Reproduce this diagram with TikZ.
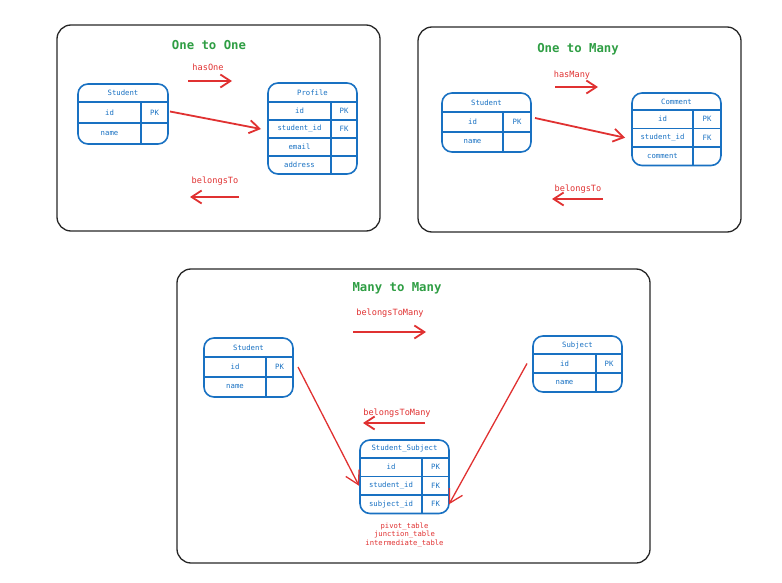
\documentclass[tikz,border=0pt]{standalone}
\usepackage{fontspec}
\setmonofont{DejaVu Sans Mono}
\usetikzlibrary{positioning,arrows.meta}
\definecolor{ExBlue}{HTML}{1971C2}
\definecolor{ExRed}{HTML}{E03131}
\definecolor{ExGreen}{HTML}{2F9E44}

\begin{document}
\begin{tikzpicture}[x=1pt,y=-1pt,
  panel/.style={draw=black!85, line width=1.3pt, rounded corners=14pt},
  title/.style={text=ExGreen, font=\ttfamily\bfseries\fontsize{12.3}{14}\selectfont},
  rlabel/.style={text=ExRed, font=\ttfamily\fontsize{8.6}{10}\selectfont},
  cell/.style={inner sep=0pt, outer sep=0pt, text=ExBlue, font=\ttfamily\fontsize{7.3}{9}\selectfont},
  tbl/.style={draw=ExBlue, line width=1.6pt, rounded corners=10pt},
  sep/.style={draw=ExBlue, line width=1.6pt},
  rel/.style={draw=ExRed, line width=1.8pt, -{Straight Barb[length=10pt,width=13pt]}},
  relthin/.style={draw=ExRed, line width=1.3pt, -{Straight Barb[length=13pt,width=15pt]}},
]
\useasboundingbox (0,0) rectangle (782,583);

% ---------------- One to One
\draw[panel] (57,25) rectangle (380,231);
\node[title] (TitA) at (209,45) {One to One};
\node[rlabel] (HasOne) at (208,67) {hasOne};
\node[rlabel] (BelA) at (215,181) {belongsTo};
\coordinate (HasOneS) at (188,81);
\coordinate (HasOneE) at (232,81);
\coordinate (BelAS) at (239,197);
\coordinate (BelAE) at (190,197);

% student table
\begin{scope}[cell/.append style={minimum height=21pt}]
  \node[cell, minimum width=90pt, minimum height=18pt, anchor=north west] (StuA) at (78,84) {Student};
  \node[cell, minimum width=63pt, below=0pt of StuA.south west, anchor=north west] (StuAid) {id};
  \node[cell, minimum width=27pt, right=0pt of StuAid] (StuApk) {PK};
  \node[cell, minimum width=63pt, below=0pt of StuAid] (StuAnm) {name};
  \node[cell, minimum width=27pt, right=0pt of StuAnm] (StuAnx) {};
\end{scope}
\draw[tbl] (StuA.north west) rectangle (StuAnx.south east);
\draw[sep] (StuAid.north west) -- (StuApk.north east);
\draw[sep] (StuAnm.north west) -- (StuAnx.north east);
\draw[sep] (StuApk.north west) -- (StuAnx.south west);

% profile table
\begin{scope}[cell/.append style={minimum height=18pt}]
  \node[cell, minimum width=89pt, minimum height=19pt, anchor=north west] (ProA) at (268,83) {Profile};
  \node[cell, minimum width=63pt, below=0pt of ProA.south west, anchor=north west] (ProAid) {id};
  \node[cell, minimum width=26pt, right=0pt of ProAid] (ProApk) {PK};
  \node[cell, minimum width=63pt, below=0pt of ProAid] (ProAsid) {student\_id};
  \node[cell, minimum width=26pt, right=0pt of ProAsid] (ProAfk) {FK};
  \node[cell, minimum width=63pt, below=0pt of ProAsid] (ProAem) {email};
  \node[cell, minimum width=26pt, right=0pt of ProAem] (ProAex) {};
  \node[cell, minimum width=63pt, below=0pt of ProAem] (ProAad) {address};
  \node[cell, minimum width=26pt, right=0pt of ProAad] (ProAax) {};
\end{scope}
\draw[tbl] (ProA.north west) rectangle (ProAax.south east);
\draw[sep] (ProAid.north west) -- (ProApk.north east);
\draw[sep] (ProAsid.north west) -- (ProAfk.north east);
\draw[sep] (ProAem.north west) -- (ProAex.north east);
\draw[sep] (ProAad.north west) -- (ProAax.north east);
\draw[sep] (ProApk.north west) -- (ProAax.south west);

% edges
\draw[rel] (HasOneS) -- (HasOneE);
\draw[rel] (BelAS) -- (BelAE);
\draw[rel] ([xshift=2pt,yshift=1pt]StuApk.east) -- ([xshift=-7pt]ProAsid.west);

% ---------------- One to Many
\draw[panel] (418,27) rectangle (741,232);
\node[title] (TitB) at (578,49) {One to Many};
\node[rlabel] (HasMany) at (572,75) {hasMany};
\node[rlabel] (BelB) at (578,189) {belongsTo};
\coordinate (HasManyS) at (555,87);
\coordinate (HasManyE) at (598,87);
\coordinate (BelBS) at (603,199);
\coordinate (BelBE) at (552,199);

% student table
\begin{scope}[cell/.append style={minimum height=20pt}]
  \node[cell, minimum width=89pt, minimum height=19pt, anchor=north west] (StuB) at (442,93) {Student};
  \node[cell, minimum width=61pt, below=0pt of StuB.south west, anchor=north west] (StuBid) {id};
  \node[cell, minimum width=28pt, right=0pt of StuBid] (StuBpk) {PK};
  \node[cell, minimum width=61pt, below=0pt of StuBid] (StuBnm) {name};
  \node[cell, minimum width=28pt, right=0pt of StuBnm] (StuBnx) {};
\end{scope}
\draw[tbl] (StuB.north west) rectangle (StuBnx.south east);
\draw[sep] (StuBid.north west) -- (StuBpk.north east);
\draw[sep] (StuBnm.north west) -- (StuBnx.north east);
\draw[sep] (StuBpk.north west) -- (StuBnx.south west);

% comment table
\begin{scope}[cell/.append style={minimum height=18.5pt}]
  \node[cell, minimum width=89pt, minimum height=17pt, anchor=north west] (ComB) at (632,93) {Comment};
  \node[cell, minimum width=61pt, below=0pt of ComB.south west, anchor=north west] (ComBid) {id};
  \node[cell, minimum width=28pt, right=0pt of ComBid] (ComBpk) {PK};
  \node[cell, minimum width=61pt, below=0pt of ComBid] (ComBsid) {student\_id};
  \node[cell, minimum width=28pt, right=0pt of ComBsid] (ComBfk) {FK};
  \node[cell, minimum width=61pt, below=0pt of ComBsid] (ComBcm) {comment};
  \node[cell, minimum width=28pt, right=0pt of ComBcm] (ComBcx) {};
\end{scope}
\draw[tbl] (ComB.north west) rectangle (ComBcx.south east);
\draw[sep] (ComBid.north west) -- (ComBpk.north east);
\draw[sep] (ComBsid.north west) -- (ComBfk.north east);
\draw[sep] (ComBcm.north west) -- (ComBcx.north east);
\draw[sep] (ComBpk.north west) -- (ComBcx.south west);

% edges
\draw[rel] (HasManyS) -- (HasManyE);
\draw[rel] (BelBS) -- (BelBE);
\draw[rel] ([xshift=4pt,yshift=4pt]StuBpk.east) -- ([xshift=-7pt]ComBsid.west);

% ---------------- Many to Many
\draw[panel] (177,269) rectangle (650,563);
\node[title] (TitC) at (397,288) {Many to Many};
\node[rlabel] (BtmTop) at (390,313) {belongsToMany};
\node[rlabel] (BtmLow) at (397,413) {belongsToMany};
\coordinate (BtmTopS) at (353,332);
\coordinate (BtmTopE) at (426,332);
\coordinate (BtmLowS) at (425,423);
\coordinate (BtmLowE) at (363,423);

% student table
\begin{scope}[cell/.append style={minimum height=20pt}]
  \node[cell, minimum width=89pt, minimum height=19pt, anchor=north west] (StuC) at (204,338) {Student};
  \node[cell, minimum width=62pt, below=0pt of StuC.south west, anchor=north west] (StuCid) {id};
  \node[cell, minimum width=27pt, right=0pt of StuCid] (StuCpk) {PK};
  \node[cell, minimum width=62pt, below=0pt of StuCid] (StuCnm) {name};
  \node[cell, minimum width=27pt, right=0pt of StuCnm] (StuCnx) {};
\end{scope}
\draw[tbl] (StuC.north west) rectangle (StuCnx.south east);
\draw[sep] (StuCid.north west) -- (StuCpk.north east);
\draw[sep] (StuCnm.north west) -- (StuCnx.north east);
\draw[sep] (StuCpk.north west) -- (StuCnx.south west);

% subject table
\begin{scope}[cell/.append style={minimum height=19pt}]
  \node[cell, minimum width=89pt, minimum height=18pt, anchor=north west] (SubC) at (533,336) {Subject};
  \node[cell, minimum width=63pt, below=0pt of SubC.south west, anchor=north west] (SubCid) {id};
  \node[cell, minimum width=26pt, right=0pt of SubCid] (SubCpk) {PK};
  \node[cell, minimum width=63pt, below=0pt of SubCid] (SubCnm) {name};
  \node[cell, minimum width=26pt, right=0pt of SubCnm] (SubCnx) {};
\end{scope}
\draw[tbl] (SubC.north west) rectangle (SubCnx.south east);
\draw[sep] (SubCid.north west) -- (SubCpk.north east);
\draw[sep] (SubCnm.north west) -- (SubCnx.north east);
\draw[sep] (SubCpk.north west) -- (SubCnx.south west);

% pivot table
\begin{scope}[cell/.append style={minimum height=18.5pt}]
  \node[cell, minimum width=89pt, minimum height=18pt, anchor=north west] (PivC) at (360,440) {Student\_Subject};
  \node[cell, minimum width=62pt, below=0pt of PivC.south west, anchor=north west] (PivCid) {id};
  \node[cell, minimum width=27pt, right=0pt of PivCid] (PivCpk) {PK};
  \node[cell, minimum width=62pt, below=0pt of PivCid] (PivCsid) {student\_id};
  \node[cell, minimum width=27pt, right=0pt of PivCsid] (PivCfa) {FK};
  \node[cell, minimum width=62pt, below=0pt of PivCsid] (PivCbid) {subject\_id};
  \node[cell, minimum width=27pt, right=0pt of PivCbid] (PivCfb) {FK};
\end{scope}
\draw[tbl] (PivC.north west) rectangle (PivCfb.south east);
\draw[sep] (PivCid.north west) -- (PivCpk.north east);
\draw[sep] (PivCsid.north west) -- (PivCfa.north east);
\draw[sep] (PivCbid.north west) -- (PivCfb.north east);
\draw[sep] (PivCpk.north west) -- (PivCfb.south west);

\node[rlabel, font=\ttfamily\fontsize{7.2}{8.4}\selectfont, align=center, below=6pt of PivC.south|-PivCbid.south] (PivNote)
  {pivot\_table\\junction\_table\\intermediate\_table};

% edges
\draw[rel] (BtmTopS) -- (BtmTopE);
\draw[rel] (BtmLowS) -- (BtmLowE);
\draw[relthin] ([xshift=5pt]StuCpk.east) -- ([xshift=-1pt]PivCsid.west);
\draw[relthin] ([xshift=-6pt]SubCid.west) -- (PivCfb.east);
\end{tikzpicture}
\end{document}
